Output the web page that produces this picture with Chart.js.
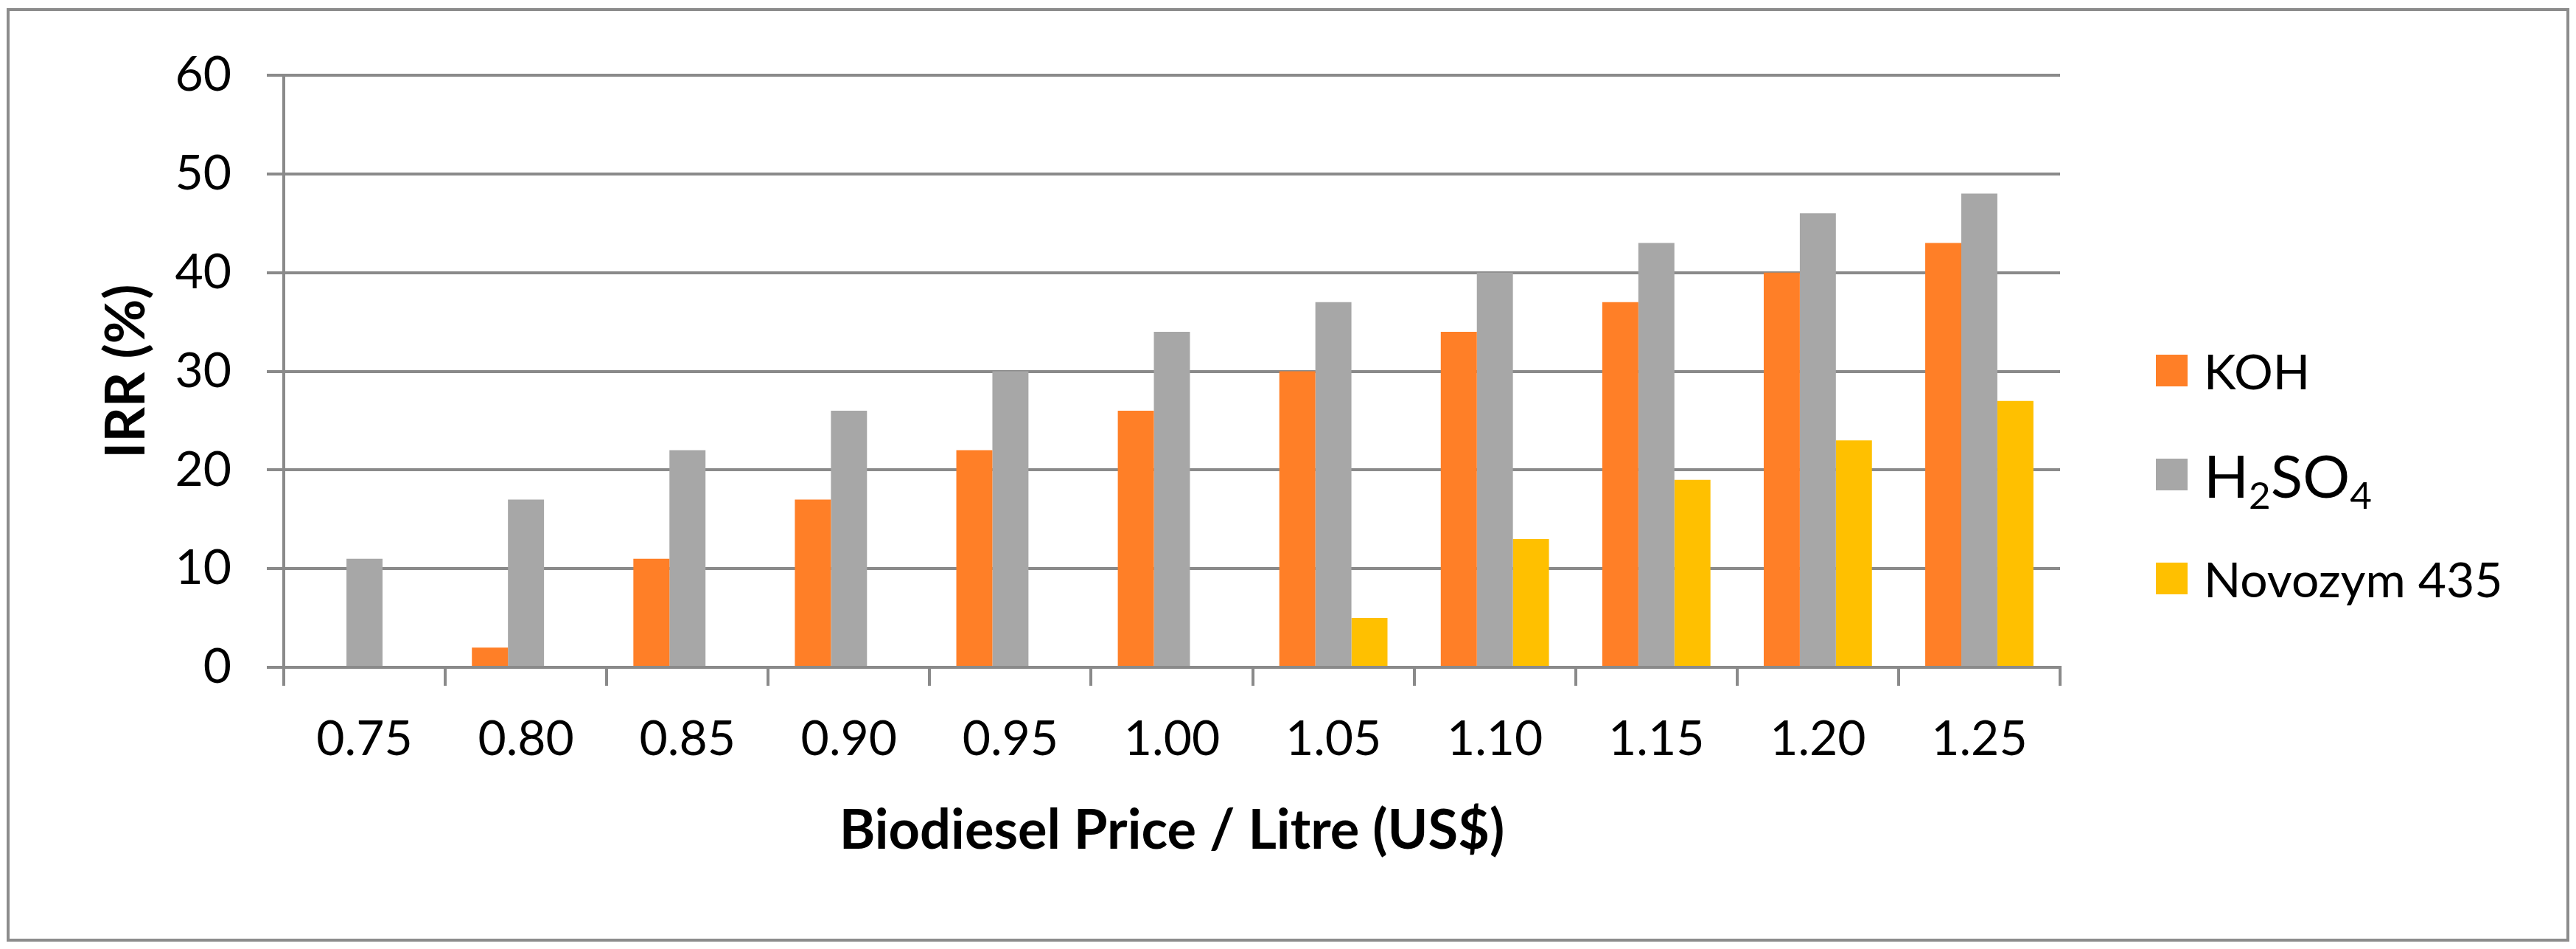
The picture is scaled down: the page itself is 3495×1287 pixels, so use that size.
<!DOCTYPE html>
<html>
<head>
<meta charset="utf-8">
<script src="https://cdn.jsdelivr.net/npm/chart.js@4.4.0/dist/chart.umd.min.js"></script>
<style>
    html, body { margin: 0; padding: 0; background: #fff; }
    #wrap { position: relative; width: 3495px; height: 1287px; }
    #irrChart { position: absolute; left: 0; top: 0; }
    #frame {
        position: absolute; left: 9px; top: 11px; width: 3477px; height: 1266px;
        border: 4px solid #8c8c8c; box-sizing: border-box; pointer-events: none;
    }
    #legend {
        position: absolute; left: 2925px; top: 0; height: 1287px;
        display: flex; flex-direction: column; justify-content: center;
        font-family: Lato, sans-serif;
    }
    .leg-item { height: 141px; display: flex; align-items: center; font-size: 66px; color: #000; }
    .leg-item.big { font-size: 80px; }
    .leg-box { width: 43px; height: 43px; margin-right: 22px; flex: none; }
    .leg-item sub { font-size: 0.64em; vertical-align: -0.3em; line-height: 0; }
</style>
</head>
<body>
<div id="wrap">
    <canvas id="irrChart" width="3495" height="1287"></canvas>
    <div id="legend"></div>
    <div id="frame"></div>
</div>
<script>
// Biodiesel price per litre (US$)
const priceLabels = ['0.75', '0.80', '0.85', '0.90', '0.95', '1.00', '1.05', '1.10', '1.15', '1.20', '1.25'];

// IRR (%) per catalyst
const kohIrr      = [0, 2, 11, 17, 22, 26, 30, 34, 37, 40, 43];
const h2so4Irr    = [11, 17, 22, 26, 30, 34, 37, 40, 43, 46, 48];
const novozymIrr  = [0, 0, 0, 0, 0, 0, 5, 13, 19, 23, 27];

const seriesNames  = ['KOH', 'H₂SO₄', 'Novozym 435'];
const seriesColors = ['#FF7F27', '#A7A7A7', '#FFC000'];

const yMin = 0, yMax = 60, yStep = 10;

const AXIS_GRAY = '#8a8a8a';

function buildLegend(chart) {
    const box = document.getElementById('legend');
    box.innerHTML = chart.data.datasets.map(ds => {
        const hasSub = /[₀-₉]/.test(ds.label);
        const text = ds.label.replace(/[₀-₉]/g, c => `<sub>${c.charCodeAt(0) - 0x2080}</sub>`);
        return `
            <div class="leg-item${hasSub ? ' big' : ''}">
                <span class="leg-box" style="background:${ds.backgroundColor}"></span>
                <span>${text}</span>
            </div>`;
    }).join('');
}

function renderChart() {
    Chart.defaults.font.family = 'Lato, sans-serif';
    Chart.defaults.color = '#000';

    const ctx = document.getElementById('irrChart');
    const seriesValues = [kohIrr, h2so4Irr, novozymIrr];

    window._irrChart = new Chart(ctx, {
        type: 'bar',
        data: {
            labels: priceLabels,
            datasets: seriesValues.map((vals, i) => ({
                label: seriesNames[i],
                data: vals,
                backgroundColor: seriesColors[i],
                borderWidth: 0,
                categoryPercentage: 0.67,
                barPercentage: 1.0
            }))
        },
        options: {
            responsive: false,
            animation: false,
            devicePixelRatio: 1,
            layout: { padding: { top: 102, right: 700, bottom: 0, left: 0 } },
            plugins: {
                legend: { display: false },
                tooltip: { enabled: false }
            },
            scales: {
                x: {
                    afterFit: scale => { scale.height = 382; },
                    grid: {
                        offset: true,
                        drawOnChartArea: false,
                        drawTicks: true,
                        tickLength: 25,
                        color: AXIS_GRAY,
                        lineWidth: 4
                    },
                    border: { display: true, color: AXIS_GRAY, width: 4 },
                    ticks: { font: { size: 66 }, padding: 33, color: '#000' },
                    title: {
                        display: true,
                        text: 'Biodiesel Price / Litre (US$)',
                        font: { size: 74, weight: 'bold' },
                        color: '#000',
                        padding: { top: 0, bottom: 115 }
                    }
                },
                y: {
                    min: yMin,
                    max: yMax,
                    afterFit: scale => { scale.width = 385; },
                    grid: {
                        drawTicks: true,
                        tickLength: 23,
                        color: AXIS_GRAY,
                        lineWidth: 4
                    },
                    border: { display: true, color: AXIS_GRAY, width: 4 },
                    ticks: { stepSize: yStep, font: { size: 66 }, padding: 48, color: '#000' },
                    title: {
                        display: true,
                        text: 'IRR (%)',
                        font: { size: 74, weight: 'bold' },
                        color: '#000',
                        padding: { top: 128, bottom: 0 }
                    }
                }
            }
        }
    });

    buildLegend(window._irrChart);
}

if (document.fonts && document.fonts.load) {
    Promise.all([
        document.fonts.load('66px Lato'),
        document.fonts.load('bold 74px Lato')
    ]).then(renderChart, renderChart);
} else {
    renderChart();
}
</script>
</body>
</html>
